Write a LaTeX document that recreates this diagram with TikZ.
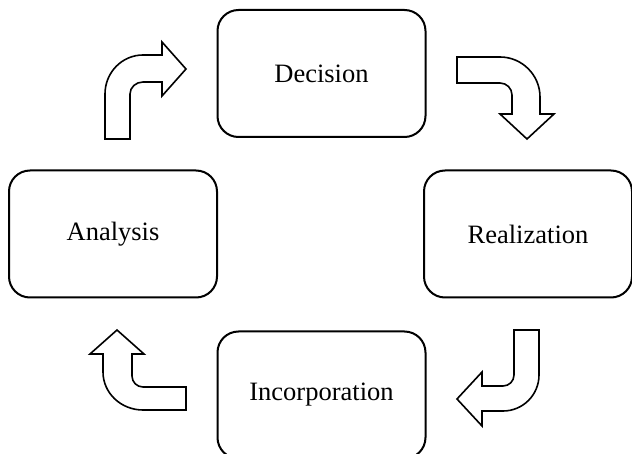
\documentclass[tikz,border=0pt]{standalone}
\usepackage{fontspec}
\setmainfont{Liberation Serif}
\usepackage{tikz}
\usetikzlibrary{positioning}

\begin{document}
\begin{tikzpicture}[x=1pt, y=-1pt,
stagenode/.style={rectangle, draw=black, line width=2pt, rounded corners=21pt, minimum width=208pt, minimum height=127pt, font=\fontsize{26.5}{30}\selectfont},
bentarrow/.style={draw=black, fill=white, line width=1.6pt, line join=miter},
]
\useasboundingbox (0,0) rectangle (632,454);

%Nodes
\node[stagenode]    (decision)       at (321.5,73.5) {Decision};
\node[stagenode]    (realization)    at (528,234)    {Realization};
\node[stagenode]    (incorporation)  at (321.5,395)  {Incorporation};
\node[stagenode]    (analysis)       at (113,234)    {Analysis};

%Arrows
% analysis -> decision
\draw[bentarrow] (105,139) -- (105,94) .. controls (105,72.5) and (122,55) .. (143,55) -- (162,55) -- (162,42) -- (186,69) -- (162,96) -- (162,82) -- (143,82) .. controls (135.8,82) and (130,87.4) .. (130,94) -- (130,139) -- cycle;
% decision -> realization
\draw[bentarrow] (457,57) -- (500,57) .. controls (522,57) and (540,75) .. (540,97) -- (540,114) -- (554,114) -- (527,139) -- (500,114) -- (512,114) -- (512,95) .. controls (512,88.4) and (506.6,83) .. (500,83) -- (457,83) -- cycle;
% realization -> incorporation
\draw[bentarrow] (514,330) -- (539,330) -- (539,375) .. controls (539,394.9) and (522.9,411) .. (503,411) -- (482,411) -- (482,426) -- (457,399) -- (482,372) -- (482,386) -- (503,386) .. controls (509.1,386) and (514,381.1) .. (514,375) -- cycle;
% incorporation -> analysis
\draw[bentarrow] (186,387) -- (143,387) .. controls (136.9,387) and (132,382.1) .. (132,376) -- (132,354) -- (144,354) -- (117,330) -- (90,354) -- (103,354) -- (103,372) .. controls (103,393) and (120.9,410) .. (143,410) -- (186,410) -- cycle;
\end{tikzpicture}
\end{document}
